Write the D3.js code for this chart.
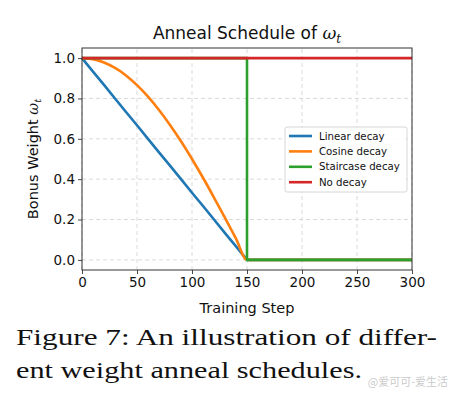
<!DOCTYPE html>
<html>
<head>
<meta charset="utf-8">
<script src="https://cdn.jsdelivr.net/npm/d3@7"></script>
<style>
  body { margin: 0; background: #fff; }
  svg { display: block; }
</style>
</head>
<body>
<div id="chart"></div>
<script>
// Datos
const steps = [0, 10, 20, 30, 40, 50, 60, 70, 80, 90, 100, 110, 120, 130, 140, 150, 300];
const linearDecay = [1, 0.933, 0.867, 0.8, 0.733, 0.667, 0.6, 0.533, 0.467, 0.4, 0.333, 0.267, 0.2, 0.133, 0.067, 0, 0];
const cosineDecay = [1, 0.995, 0.978, 0.951, 0.914, 0.866, 0.809, 0.743, 0.669, 0.588, 0.5, 0.407, 0.309, 0.208, 0.105, 0, 0];
const staircaseSteps = [0, 150, 150, 300];
const staircaseDecay = [1, 1, 0, 0];
const noDecaySteps = [0, 300];
const noDecay = [1, 1];

const seriesNames = ['Linear decay', 'Cosine decay', 'Staircase decay', 'No decay'];
const seriesColors = ['#1f77b4', '#ff7f0e', '#2ca02c', '#d62728'];
const xTicks = [0, 50, 100, 150, 200, 250, 300];
const yTicks = [0, 0.2, 0.4, 0.6, 0.8, 1.0];

const width = 455, height = 396;
const margin = { top: 48, right: 43, bottom: 126, left: 82 };

const svg = d3.select('#chart').append('svg')
  .attr('width', width)
  .attr('height', height)
  .style('font-family', '"DejaVu Sans", sans-serif');

const x = d3.scaleLinear().domain([0, 300]).range([margin.left, width - margin.right]);
const y = d3.scaleLinear().domain([-0.05, 1.05]).range([height - margin.bottom, margin.top]);

// Grid
const grid = svg.append('g');
grid.selectAll('.gx').data(xTicks).enter().append('line')
  .attr('x1', d => x(d)).attr('x2', d => x(d))
  .attr('y1', y(-0.05)).attr('y2', y(1.05))
  .attr('stroke', '#d0d0d0').attr('stroke-width', 0.8).attr('stroke-dasharray', '4,3');
grid.selectAll('.gy').data(yTicks).enter().append('line')
  .attr('x1', x(0)).attr('x2', x(300))
  .attr('y1', d => y(d)).attr('y2', d => y(d))
  .attr('stroke', '#d0d0d0').attr('stroke-width', 0.8).attr('stroke-dasharray', '4,3');

// Series
const line = d3.line().x(d => x(d[0])).y(d => y(d[1]));
const cosineCurve = d3.line().x(d => x(d[0])).y(d => y(d[1])).curve(d3.curveMonotoneX);
const series = [
  d3.zip(steps, linearDecay),
  d3.zip(steps, cosineDecay),
  d3.zip(staircaseSteps, staircaseDecay),
  d3.zip(noDecaySteps, noDecay)
];

svg.append('g').selectAll('path').data(series).enter().append('path')
  .attr('d', (d, i) => i === 1 ? cosineCurve(d) : line(d))
  .attr('fill', 'none')
  .attr('stroke', (d, i) => seriesColors[i])
  .attr('stroke-width', 2.6)
  .attr('stroke-linejoin', 'round');

// Ejes
const xAxis = svg.append('g')
  .attr('transform', `translate(0, ${height - margin.bottom})`)
  .call(d3.axisBottom(x).tickValues(xTicks).tickSize(4).tickPadding(3));
const yAxis = svg.append('g')
  .attr('transform', `translate(${margin.left}, 0)`)
  .call(d3.axisLeft(y).tickValues(yTicks).tickFormat(d3.format('.1f')).tickSize(4).tickPadding(3));
[xAxis, yAxis].forEach(a => {
  a.select('.domain').remove();
  a.selectAll('.tick line').attr('stroke', '#333').attr('stroke-width', 0.9);
  a.selectAll('.tick text').attr('fill', '#111').style('font-size', '13.5px').style('font-family', '"DejaVu Sans", sans-serif');
});

// Marco
svg.append('rect')
  .attr('x', x(0)).attr('y', y(1.05))
  .attr('width', x(300) - x(0)).attr('height', y(-0.05) - y(1.05))
  .attr('fill', 'none').attr('stroke', '#333').attr('stroke-width', 1);

// Título y etiquetas
const title = svg.append('text')
  .attr('x', (x(0) + x(300)) / 2).attr('y', 39)
  .attr('text-anchor', 'middle').attr('font-size', 17).attr('fill', '#111');
title.append('tspan').text('Anneal Schedule of ');
title.append('tspan').attr('font-style', 'italic').attr('font-family', '"DejaVu Serif", serif').text('ω');
title.append('tspan').attr('font-style', 'italic').attr('font-family', '"DejaVu Serif", serif')
  .attr('font-size', 12).attr('dy', 4).text('t');

svg.append('text')
  .attr('x', (x(0) + x(300)) / 2).attr('y', 313)
  .attr('text-anchor', 'middle').attr('font-size', 14.5).attr('fill', '#111')
  .text('Training Step');

const ylab = svg.append('text')
  .attr('transform', `translate(38, ${y(0.5)}) rotate(-90)`)
  .attr('text-anchor', 'middle').attr('font-size', 14.5).attr('fill', '#111');
ylab.append('tspan').text('Bonus Weight ');
ylab.append('tspan').attr('font-style', 'italic').attr('font-family', '"DejaVu Serif", serif').text('ω');
ylab.append('tspan').attr('font-style', 'italic').attr('font-family', '"DejaVu Serif", serif')
  .attr('font-size', 10).attr('dy', 3).text('t');

// Leyenda
const legend = svg.append('g').attr('transform', 'translate(285, 127)');
legend.append('rect')
  .attr('width', 122).attr('height', 65).attr('rx', 2)
  .attr('fill', '#fff').attr('fill-opacity', 0.85)
  .attr('stroke', '#ccc').attr('stroke-width', 0.8);
const items = legend.selectAll('.item').data(seriesNames).enter().append('g')
  .attr('transform', (d, i) => `translate(0, ${9 + i * 15.4})`);
items.append('line')
  .attr('x1', 4).attr('x2', 27)
  .attr('stroke', (d, i) => seriesColors[i]).attr('stroke-width', 2.6);
items.append('text')
  .attr('x', 34).attr('dy', '0.35em')
  .attr('font-size', 10.2).attr('fill', '#111')
  .text(d => d);

// Pie de figura
svg.append('text')
  .attr('x', 16).attr('y', 345)
  .attr('font-family', '"Liberation Serif", serif').attr('font-size', 23.5).attr('fill', '#111')
  .attr('textLength', 421).attr('lengthAdjust', 'spacingAndGlyphs')
  .text('Figure 7:  An illustration of differ-');
svg.append('text')
  .attr('x', 16).attr('y', 378)
  .attr('font-family', '"Liberation Serif", serif').attr('font-size', 23.5).attr('fill', '#111')
  .attr('textLength', 346).attr('lengthAdjust', 'spacingAndGlyphs')
  .text('ent weight anneal schedules.');

// Marca de agua
svg.append('text')
  .attr('x', 448).attr('y', 386).attr('text-anchor', 'end')
  .attr('font-family', '"Noto Sans CJK SC", sans-serif').attr('font-size', 11)
  .attr('fill', '#bbb').attr('fill-opacity', 0.8)
  .text('@爱可可-爱生活');
</script>
</body>
</html>
